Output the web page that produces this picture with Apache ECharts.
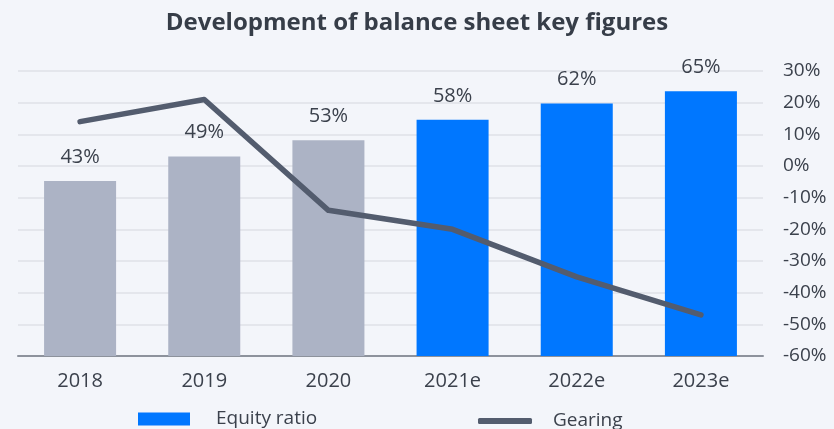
<!DOCTYPE html>
<html>
	<head>
		<meta charset="UTF-8">
		<title>Development of balance sheet key figures</title>
		<style>
			html, body { margin: 0; padding: 0; background: #f3f5fa; }
			#main { width: 834px; height: 429px; }
		</style>
	</head>
	<body>
		<div id="main"></div>
		<script src="https://cdn.jsdelivr.net/npm/echarts@6/dist/echarts.min.js"></script>
		<script type="text/javascript">
			var years = ['2018', '2019', '2020', '2021e', '2022e', '2023e'];
			var equityRatio = [43, 49, 53, 58, 62, 65];
			var gearing = [14, 21, -14, -20, -35, -47];
			var forecastFrom = 3; // bars from 2021e on are blue

			var textColor = '#3b414c';
			var font = 'Open Sans';

			var barData = [];
			for (var i = 0; i < equityRatio.length; i++) {
				barData.push({
					value: equityRatio[i],
					itemStyle: { color: i < forecastFrom ? '#acb3c5' : '#0077ff' }
				});
			}

			var myChart = echarts.init(document.getElementById('main'));
			var option = {
				backgroundColor: '#f3f5fa',
				textStyle: { fontFamily: font },
				animation: false,
				title: {
					text: 'Development of balance sheet key figures',
					left: 'center',
					top: 6,
					textStyle: { fontFamily: font, fontSize: 24, fontWeight: 'bold', color: '#363d48' }
				},
				legend: [{
					data: ['Equity ratio'],
					left: 138,
					top: 409,
					padding: 0,
					icon: 'rect',
					itemWidth: 52,
					itemHeight: 13,
					textStyle: { fontFamily: font, fontSize: 19, lineHeight: 20, color: textColor, padding: [0, 0, 0, 21] }
				}, {
					data: ['Gearing'],
					left: 478,
					top: 406,
					padding: 0,
					icon: 'roundRect',
					itemWidth: 54,
					itemHeight: 6,
					textStyle: { fontFamily: font, fontSize: 19, lineHeight: 20, color: textColor, padding: [0, 0, 10, 16] }
				}],
				grid: { left: 18, right: 71, top: 71, bottom: 73 },
				xAxis: {
					type: 'category',
					data: years,
					axisTick: { show: false },
					axisLine: { lineStyle: { color: '#8d929c', width: 2 } },
					axisLabel: { fontFamily: font, fontSize: 20, color: textColor, margin: 15 }
				},
				yAxis: [{
					type: 'value',
					position: 'left',
					min: 0,
					max: 70,
					show: false
				}, {
					type: 'value',
					position: 'right',
					min: -60,
					max: 30,
					interval: 10,
					axisLine: { show: false },
					axisTick: { show: false },
					splitLine: { lineStyle: { color: '#dfe1e7', width: 1.5 } },
					axisLabel: {
						formatter: '{value}%',
						fontFamily: font, fontSize: 19, color: textColor, margin: 20
					}
				}],
				series: [{
					name: 'Equity ratio',
					type: 'bar',
					yAxisIndex: 0,
					barWidth: '58%',
					itemStyle: { color: '#0077ff' },
					data: barData,
					label: {
						show: true,
						position: 'top',
						distance: 14,
						formatter: '{c}%',
						fontFamily: font, fontSize: 20, color: textColor
					}
				}, {
					name: 'Gearing',
					type: 'line',
					yAxisIndex: 1,
					symbol: 'none',
					itemStyle: { color: '#535c6e' },
					lineStyle: { color: '#535c6e', width: 5.5, cap: 'round', join: 'round' },
					data: gearing
				}]
			};
			myChart.setOption(option);
		</script>
	</body>
</html>
